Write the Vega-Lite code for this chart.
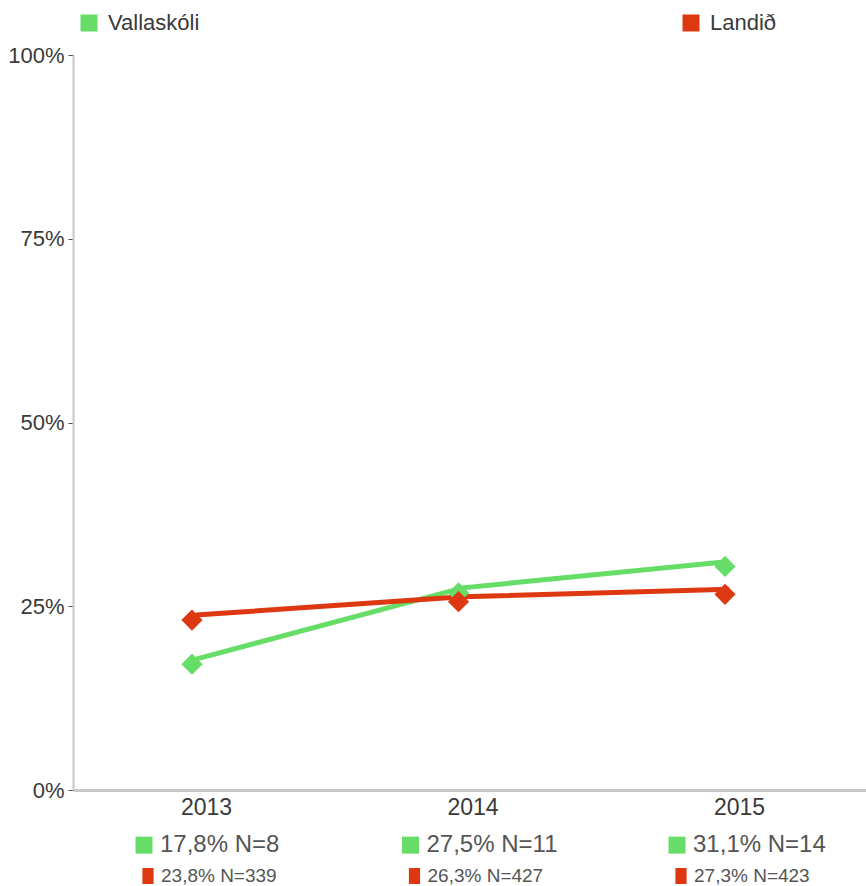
{
  "$schema": "https://vega.github.io/schema/vega-lite/v6.json",
  "width": 793,
  "height": 735,
  "autosize": "none",
  "padding": {"left": 73, "top": 55, "right": 0, "bottom": 96},
  "background": "white",
  "config": {
    "view": {"stroke": null},
    "font": "Liberation Sans"
  },
  "data": {
    "values": [
      {"year": 2013, "series": "Vallaskóli", "pct": 17.8, "label": "17,8% N=8"},
      {"year": 2014, "series": "Vallaskóli", "pct": 27.5, "label": "27,5% N=11"},
      {"year": 2015, "series": "Vallaskóli", "pct": 31.1, "label": "31,1% N=14"},
      {"year": 2013, "series": "Landið", "pct": 23.8, "label": "23,8% N=339"},
      {"year": 2014, "series": "Landið", "pct": 26.3, "label": "26,3% N=427"},
      {"year": 2015, "series": "Landið", "pct": 27.3, "label": "27,3% N=423"}
    ]
  },
  "encoding": {
    "x": {
      "field": "year", "type": "quantitative",
      "scale": {"domain": [2012.5385, 2015.514], "nice": false, "zero": false},
      "axis": {
        "values": [2013, 2014, 2015], "format": "d", "title": null, "grid": false,
        "ticks": false, "labelFont": "Liberation Sans", "labelFontSize": 23, "labelColor": "#3a3a3a",
        "labelPadding": 6, "labelOffset": 10, "domainColor": "#c8c8c8", "domainWidth": 3, "labelFlush": false
      }
    }
  },
  "layer": [
    {
      "mark": {"type": "line", "strokeWidth": 5},
      "encoding": {
        "y": {
          "field": "pct", "type": "quantitative",
          "scale": {"domain": [0, 100], "nice": false, "zero": true},
          "axis": {
            "values": [0, 25, 50, 75, 100], "labelExpr": "datum.value + '%'", "title": null, "grid": false,
            "tickSize": 5, "tickColor": "#555555", "tickWidth": 1, "domainColor": "#c8c8c8", "domainWidth": 2,
            "labelFont": "Liberation Sans", "labelFontSize": 22, "labelColor": "#3a3a3a", "labelPadding": 4
          }
        },
        "color": {
          "field": "series", "type": "nominal",
          "scale": {"domain": ["Vallaskóli", "Landið"], "range": ["#66dd66", "#dd3811"]},
          "legend": {
            "title": null, "orient": "none", "direction": "horizontal", "legendX": 5, "legendY": -43,
            "symbolType": "square", "symbolSize": 289, "symbolStrokeWidth": 0, "symbolOpacity": 1,
            "labelFont": "Liberation Sans", "labelFontSize": 22, "labelColor": "#3a3a3a", "labelOffset": 8,
            "columnPadding": 480
          }
        }
      }
    },
    {
      "mark": {"type": "point", "shape": "diamond", "filled": true, "opacity": 1, "size": 450, "xOffset": -4, "yOffset": 5},
      "encoding": {
        "y": {"field": "pct", "type": "quantitative"},
        "color": {"field": "series", "type": "nominal"}
      }
    },
    {
      "transform": [{"filter": "datum.series == 'Vallaskóli'"}],
      "mark": {"type": "point", "shape": "square", "filled": true, "opacity": 1, "size": 289, "xOffset": -52},
      "encoding": {
        "y": {"datum": -7.5, "type": "quantitative"},
        "color": {"field": "series", "type": "nominal"}
      }
    },
    {
      "transform": [{"filter": "datum.series == 'Vallaskóli'"}],
      "mark": {"type": "text", "align": "left", "baseline": "middle", "dx": -36, "fontSize": 24, "font": "Liberation Sans", "color": "#555555"},
      "encoding": {
        "y": {"datum": -7.5, "type": "quantitative"},
        "text": {"field": "label"}
      }
    },
    {
      "transform": [{"filter": "datum.series == 'Landið'"}],
      "mark": {"type": "point", "shape": "M-0.7,-1H0.7V1H-0.7Z", "filled": true, "opacity": 1, "size": 256, "xOffset": -48},
      "encoding": {
        "y": {"datum": -11.7, "type": "quantitative"},
        "color": {"field": "series", "type": "nominal"}
      }
    },
    {
      "transform": [{"filter": "datum.series == 'Landið'"}],
      "mark": {"type": "text", "align": "left", "baseline": "middle", "dx": -35, "fontSize": 19, "font": "Liberation Sans", "color": "#555555"},
      "encoding": {
        "y": {"datum": -11.7, "type": "quantitative"},
        "text": {"field": "label"}
      }
    }
  ]
}
